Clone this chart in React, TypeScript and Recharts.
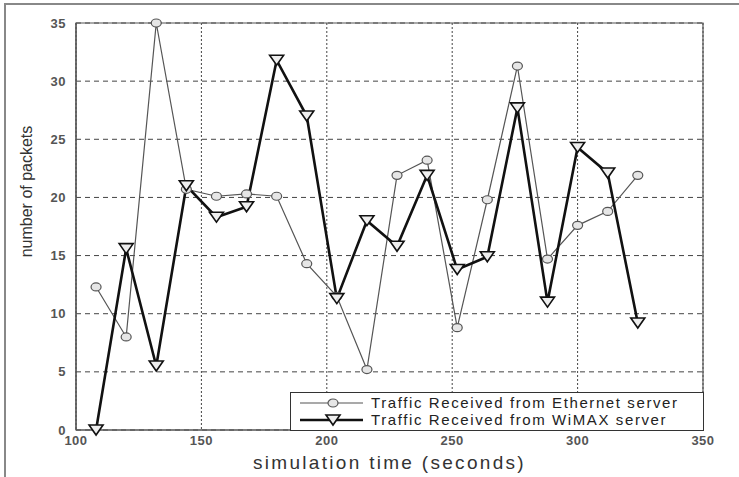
import React from "react";
import {
  LineChart,
  Line,
  XAxis,
  YAxis,
  CartesianGrid,
  ReferenceArea,
} from "recharts";

const times = [108, 120, 132, 144, 156, 168, 180, 192, 204, 216, 228, 240, 252, 264, 276, 288, 300, 312, 324];
const ethernet = [12.3, 8.0, 35, 20.7, 20.1, 20.3, 20.1, 14.3, 11.5, 5.2, 21.9, 23.2, 8.8, 19.8, 31.3, 14.7, 17.6, 18.8, 21.9];
const wimax = [0, 15.6, 5.5, 21, 18.3, 19.2, 31.8, 27, 11.3, 18, 15.8, 21.9, 13.8, 14.9, 27.7, 11, 24.3, 22.1, 9.2];
const xTicks = [100, 150, 200, 250, 300, 350];
const yTicks = [0, 5, 10, 15, 20, 25, 30, 35];

const seriesNames = {
  eth: "Traffic Received from Ethernet server",
  wimax: "Traffic Received from WiMAX server",
};

const data = times.map((t, i) => ({ t, eth: ethernet[i], wimax: wimax[i] }));

const CircleDot = (props: any) => {
  const { cx, cy, index } = props;
  if (cx == null || cy == null) return <g key={index} />;
  return <ellipse key={index} cx={cx} cy={cy} rx={5} ry={4} fill="#e6e6e6" stroke="#555" strokeWidth={1.2} />;
};

const TriDot = (props: any) => {
  const { cx, cy, index } = props;
  if (cx == null || cy == null) return <g key={index} />;
  return (
    <path
      key={index}
      d={`M${cx - 7},${cy - 5} L${cx + 7},${cy - 5} L${cx},${cy + 5} Z`}
      fill="#eee"
      stroke="#111"
      strokeWidth={1.6}
    />
  );
};

// legend drawn as an overlay so it doesn't eat into the plot area
const LegendBox = () => (
  <div
    style={{
      position: "absolute",
      left: 290,
      top: 392,
      width: 414,
      height: 39,
      border: "1px solid #333",
      background: "#fff",
      boxSizing: "border-box",
    }}
  >
    <svg width={75} height={37} style={{ position: "absolute", left: 0, top: 0 }}>
      <line x1={9} y1={10} x2={72} y2={10} stroke="#555" strokeWidth={1.2} />
      <ellipse cx={42} cy={10} rx={5} ry={4} fill="#e6e6e6" stroke="#555" strokeWidth={1.2} />
      <line x1={9} y1={27} x2={72} y2={27} stroke="#111" strokeWidth={2.5} />
      <path d="M35,22 L49,22 L42,32 Z" fill="#eee" stroke="#111" strokeWidth={1.6} />
    </svg>
    <div
      style={{
        position: "absolute",
        left: 80,
        top: 1,
        fontFamily: "Liberation Sans, Arial, sans-serif",
        fontSize: 15,
        lineHeight: "17px",
        color: "#222",
        letterSpacing: 1.6,
        whiteSpace: "nowrap",
      }}
    >
      <div>{seriesNames.eth}</div>
      <div>{seriesNames.wimax}</div>
    </div>
  </div>
);

const tickStyle = {
  fontFamily: "Liberation Sans, Arial, sans-serif",
  fontSize: 13,
  fontWeight: 700,
  fill: "#555",
  letterSpacing: 0.5,
};

export default function App() {
  return (
    <div style={{ position: "absolute", left: 0, top: 0, width: 739, height: 477, background: "#fff", overflow: "hidden" }}>
      <div
        style={{
          position: "absolute",
          left: 4,
          top: 3,
          width: 800,
          height: 600,
          borderLeft: "2px solid #888",
          borderTop: "2px solid #888",
        }}
      />
      <div style={{ position: "absolute", left: 0, top: 0 }}>
        <LineChart width={739} height={477} data={data} margin={{ top: 23, right: 36, left: 16, bottom: 17 }}>
          <CartesianGrid vertical={false} stroke="#444" strokeDasharray="5 4" />
          <CartesianGrid horizontal={false} stroke="#444" strokeDasharray="2 2" />
          <ReferenceArea x1={100} x2={350} y1={0} y2={35} fill="none" stroke="#555" strokeWidth={1.2} ifOverflow="visible" />
          <XAxis
            dataKey="t"
            type="number"
            domain={[100, 350]}
            ticks={xTicks}
            height={30}
            tick={tickStyle}
            tickLine={false}
            axisLine={{ stroke: "#555", strokeWidth: 1.2 }}
            dy={-2}
            label={{
              value: "simulation time (seconds)",
              position: "insideBottom",
              offset: -9,
              style: { fontFamily: "Liberation Sans, Arial, sans-serif", fontSize: 19, fill: "#333", letterSpacing: 2.3 },
            }}
          />
          <YAxis
            type="number"
            domain={[0, 35]}
            ticks={yTicks}
            width={60}
            tick={tickStyle}
            tickLine={false}
            axisLine={{ stroke: "#555", strokeWidth: 1.2 }}
            dx={-2}
            label={{
              value: "number of packets",
              angle: -90,
              position: "insideLeft",
              offset: 10,
              dy: -35,
              style: {
                fontFamily: "Liberation Sans Narrow, Liberation Sans, Arial, sans-serif",
                fontSize: 16,
                fill: "#333",
                textAnchor: "middle",
              },
            }}
          />
          <Line
            type="linear"
            dataKey="eth"
            name={seriesNames.eth}
            stroke="#555"
            strokeWidth={1.2}
            dot={CircleDot}
            activeDot={false}
            isAnimationActive={false}
          />
          <Line
            type="linear"
            dataKey="wimax"
            name={seriesNames.wimax}
            stroke="#111"
            strokeWidth={2.6}
            dot={TriDot}
            activeDot={false}
            isAnimationActive={false}
          />
        </LineChart>
      </div>
      <LegendBox />
    </div>
  );
}
